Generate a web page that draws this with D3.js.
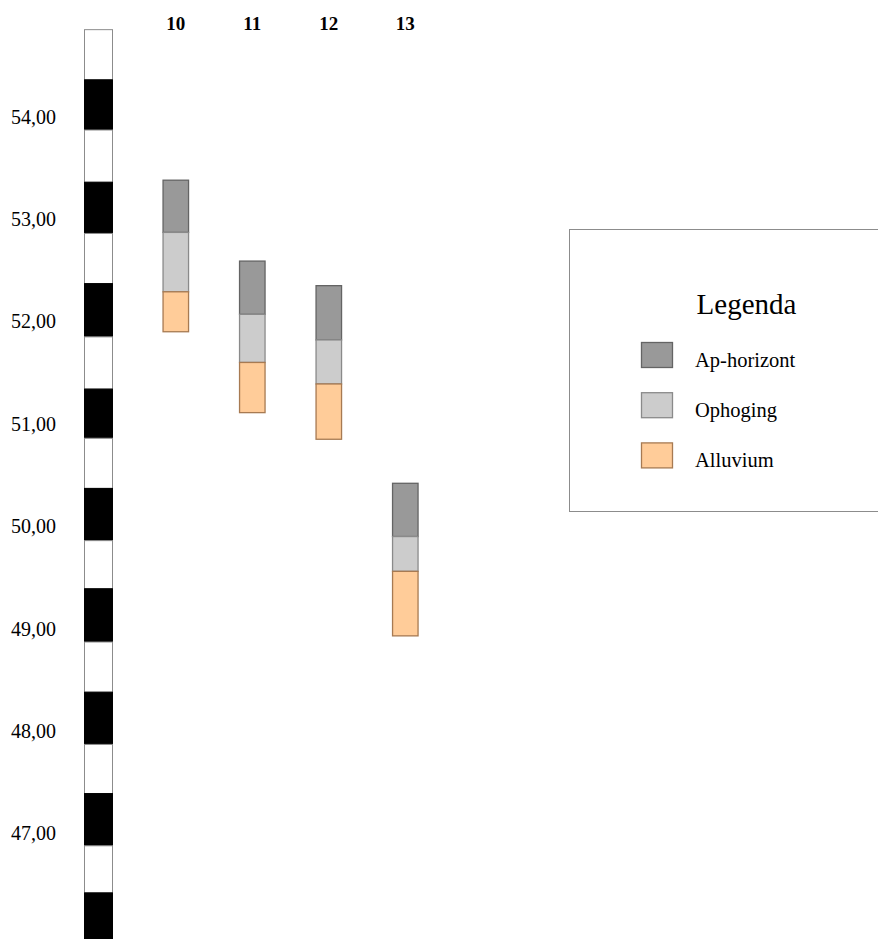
<!DOCTYPE html>
<html>
<head>
<meta charset="utf-8">
<script src="https://cdn.jsdelivr.net/npm/d3@7/dist/d3.min.js"></script>
<style>
  html, body { margin: 0; padding: 0; background: #fff; }
  svg { display: block; }
  text { font-family: "Liberation Serif", "Times New Roman", serif; fill: #000; }
</style>
</head>
<body>
<div id="chart"></div>
<script>
// ---- Data ----
const boreholes = ["10", "11", "12", "13"];
const apTop = [53.38, 52.59, 52.35, 50.42];
const ophogingTop = [52.87, 52.07, 51.82, 49.90];
const alluviumTop = [52.29, 51.60, 51.39, 49.56];
const alluviumBottom = [51.90, 51.11, 50.85, 48.93];
const depthTicks = [54, 53, 52, 51, 50, 49, 48, 47];
const scaleBreaks = [54.85, 54.36, 53.87, 53.36, 52.86, 52.37, 51.85, 51.34, 50.86, 50.37,
                     49.86, 49.39, 48.87, 48.38, 47.87, 47.39, 46.88, 46.42, 45.85];
const layerNames = ["Ap-horizont", "Ophoging", "Alluvium"];
const layerFill = ["#999999", "#cccccc", "#ffcc99"];
const layerStroke = ["#646464", "#8a8a8a", "#a77a52"];
const legendTitle = "Legenda";

// ---- Layout ----
const W = 878, H = 939;
const svg = d3.select("#chart").append("svg").attr("width", W).attr("height", H);

const y = d3.scaleLinear().domain([54, 47]).range([116.7, 833.5]);
const x = d3.scalePoint().domain(boreholes).range([175.8, 405.3]);
const barW = 25.5;

// ---- Scale bar ----
const segs = d3.pairs(scaleBreaks).map((p, i) => ({ top: p[0], bot: p[1], black: i % 2 === 1 }));
const scaleX0 = 84.5, scaleX1 = 112.5;
svg.append("g").selectAll("rect").data(segs).join("rect")
  .attr("x", scaleX0)
  .attr("y", d => y(d.top))
  .attr("width", scaleX1 - scaleX0)
  .attr("height", d => y(d.bot) - y(d.top))
  .attr("fill", d => d.black ? "#000" : "#fff")
  .attr("stroke", d => d.black ? "#000" : "#8c8c8c")
  .attr("stroke-width", 1);

// ---- Depth labels ----
const fmt = v => d3.format(".2f")(v).replace(".", ",");
svg.append("g").selectAll("text").data(depthTicks).join("text")
  .attr("x", 33.5)
  .attr("y", d => y(d))
  .attr("dy", "0.34em")
  .attr("text-anchor", "middle")
  .attr("font-size", 20)
  .text(fmt);

// ---- Borehole headers ----
svg.append("g").selectAll("text").data(boreholes).join("text")
  .attr("x", d => x(d))
  .attr("y", 29.5)
  .attr("text-anchor", "middle")
  .attr("font-size", 19)
  .attr("font-weight", "bold")
  .text(d => d);

// ---- Stacked layers ----
const layerData = [];
boreholes.forEach((b, i) => {
  const bounds = [apTop[i], ophogingTop[i], alluviumTop[i], alluviumBottom[i]];
  for (let k = 0; k < 3; k++) {
    layerData.push({ b, k, top: bounds[k], bot: bounds[k + 1] });
  }
});
svg.append("g").selectAll("rect").data(layerData).join("rect")
  .attr("x", d => x(d.b) - barW / 2)
  .attr("y", d => y(d.top))
  .attr("width", barW)
  .attr("height", d => y(d.bot) - y(d.top))
  .attr("fill", d => layerFill[d.k])
  .attr("stroke", d => layerStroke[d.k])
  .attr("stroke-width", 1.3);

// ---- Legend ----
const lg = svg.append("g");
lg.append("rect")
  .attr("x", 569.5).attr("y", 229.5)
  .attr("width", 330).attr("height", 282)
  .attr("fill", "#fff").attr("stroke", "#8c8c8c").attr("stroke-width", 1);
lg.append("text")
  .attr("x", 746.5).attr("y", 314)
  .attr("text-anchor", "middle")
  .attr("font-size", 29)
  .text(legendTitle);
const items = lg.selectAll("g.item").data(layerNames).join("g")
  .attr("class", "item")
  .attr("transform", (d, i) => `translate(0, ${i * 50.2})`);
items.append("rect")
  .attr("x", 641.5).attr("y", 342.5)
  .attr("width", 31).attr("height", 25)
  .attr("fill", (d, i) => layerFill[i])
  .attr("stroke", (d, i) => layerStroke[i])
  .attr("stroke-width", 1.3);
items.append("text")
  .attr("x", 695).attr("y", 366.5)
  .attr("font-size", 20.5)
  .text(d => d);
</script>
</body>
</html>
